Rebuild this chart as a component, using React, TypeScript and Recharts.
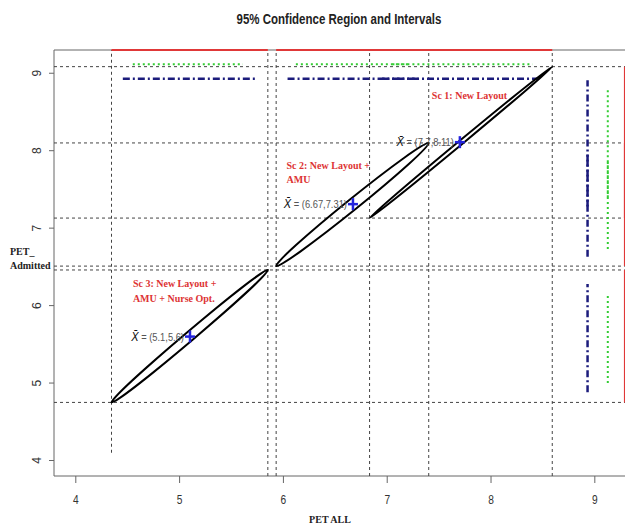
import React from 'react';
import { ComposedChart, XAxis, YAxis, ReferenceLine, ReferenceArea, Scatter } from 'recharts';

// ---- data ----
const xTicks = [4, 5, 6, 7, 8, 9];
const yTicks = [4, 5, 6, 7, 8, 9];
const xDomain = [3.79, 9.31];
const yDomain = [3.8, 9.3];

// scenarios: Sc 1, Sc 2, Sc 3
const meanX = [7.7, 6.67, 5.1];
const meanY = [8.11, 7.31, 5.6];

// 95% simultaneous intervals (red = box of the confidence region)
const redX = [[6.83, 8.59], [5.93, 7.4], [4.344, 5.85]];
const redY = [[7.13, 9.085], [6.51, 8.1], [4.75, 6.46]];
const blueX = [[6.95, 8.45], [6.04, 7.3], [4.453, 5.734]];
const blueY = [[7.28, 8.91], [6.63, 7.98], [4.88, 6.28]];
const greenX = [[7.05, 8.4], [6.12, 7.22], [4.549, 5.61]];
const greenY = [[7.4, 8.81], [6.73, 7.88], [5.0, 6.16]];

// level at which each family of intervals is drawn
const redLevel = 9.3;
const greenLevel = 9.116;
const blueLevel = 8.93;
const redLevelX = 9.29;
const greenLevelX = 9.125;
const blueLevelX = 8.93;

// lower end of the vertical dashed lines
const vLineBottom = [3.8, 3.8, 3.8, 3.8, 3.8, 4.1];

const noteX = [7.43, 6.03, 4.55];
const noteY = [8.71, 7.81, 6.28];
const noteLines = [
  ['Sc 1: New Layout'],
  ['Sc 2: New Layout +', 'AMU'],
  ['Sc 3: New Layout +', 'AMU + Nurse Opt.'],
];

// ---- styles ----
const SANS = "'Liberation Sans', Arial, sans-serif";
const SERIF = "'Liberation Serif', 'Times New Roman', serif";
const ellipseHalfWidth = [2, 5.5, 4.6];

const means = meanX.map((x, i) => ({ x, y: meanY[i] }));
const notes = noteX.map((x, i) => ({ x, y: noteY[i], lines: noteLines[i] }));

const vLines = redX
  .flat()
  .slice()
  .sort((a, b) => b - a)
  .map((x, i) => ({ x, bottom: vLineBottom[i] }));
const hLines = redY.flat();

const XTick = (props: any) => {
  const { x, y, payload } = props;
  return (
    <text
      x={0}
      y={0}
      transform={`translate(${x}, ${y + 19}) scale(0.85, 1)`}
      textAnchor="middle"
      fontFamily={SANS}
      fontSize={12}
      fill="#333"
    >
      {payload.value}
    </text>
  );
};

const YTick = (props: any) => {
  const { x, y, payload } = props;
  const cx = x - 10;
  return (
    <text
      x={cx}
      y={y}
      textAnchor="middle"
      dominantBaseline="central"
      transform={`rotate(-90, ${cx}, ${y})`}
      fontFamily={SANS}
      fontSize={12}
      fill="#333"
    >
      {payload.value}
    </text>
  );
};

const makeEllipse = (hw: number) => (p: any) => {
  const { x1, y1, x2, y2 } = p;
  if ([x1, y1, x2, y2].some((v) => v == null || isNaN(v))) return <g />;
  const cx = (x1 + x2) / 2;
  const cy = (y1 + y2) / 2;
  const rx = Math.hypot(x2 - x1, y2 - y1) / 2;
  const ang = (Math.atan2(y2 - y1, x2 - x1) * 180) / Math.PI;
  return (
    <ellipse
      cx={cx}
      cy={cy}
      rx={rx}
      ry={hw}
      transform={`rotate(${ang}, ${cx}, ${cy})`}
      fill="none"
      stroke="#000"
      strokeWidth={2}
    />
  );
};

const Cross = (props: any) => {
  const { cx, cy, payload } = props;
  if (cx == null || cy == null) return <g />;
  return (
    <g>
      <text
        x={0}
        y={0}
        transform={`translate(${cx - 6}, ${cy}) scale(0.85, 1)`}
        textAnchor="end"
        dominantBaseline="central"
        fontFamily={SANS}
        fontSize={11}
      >
        <tspan fill="#111" fontStyle="italic" fontSize={13}>{'X\u0304'}</tspan>
        <tspan fill="#555">{` = (${payload.x},${payload.y})`}</tspan>
      </text>
      <line x1={cx - 5} y1={cy} x2={cx + 5} y2={cy} stroke="#2323dd" strokeWidth={2.5} />
      <line x1={cx} y1={cy - 6} x2={cx} y2={cy + 6} stroke="#2323dd" strokeWidth={2.5} />
    </g>
  );
};

const Note = (props: any) => {
  const { cx, cy, payload } = props;
  if (cx == null || cy == null) return <g />;
  return (
    <g>
      {payload.lines.map((t: string, i: number) => (
        <text
          key={i}
          x={cx}
          y={cy + i * 14.5}
          dominantBaseline="central"
          fontFamily={SERIF}
          fontWeight="bold"
          fontSize={10}
          fill="#dd3333"
        >
          {t}
        </text>
      ))}
    </g>
  );
};

const dashStyle = { stroke: '#444', strokeWidth: 1, strokeDasharray: '3 3' };
const blueStyle = { stroke: '#1c1c7c', strokeWidth: 2.5, strokeDasharray: '7 3 2 3' };
const greenStyle = { stroke: '#33cc33', strokeWidth: 2, strokeDasharray: '2 3' };
const redStyle = { stroke: '#e03838', strokeWidth: 2 };

export default function App() {
  return (
    <div style={{ position: 'absolute', left: 0, top: 0, width: 625, height: 531, overflow: 'hidden', background: '#fff' }}>
      <div
        style={{
          position: 'absolute',
          left: 0,
          width: 678,
          top: 11,
          textAlign: 'center',
          fontFamily: SANS,
          fontWeight: 'bold',
          fontSize: 14,
          color: '#222',
          transform: 'scaleX(0.82)',
          transformOrigin: '339px 0',
        }}
      >
        95% Confidence Region and Intervals
      </div>
      <div
        style={{
          position: 'absolute',
          left: 0,
          width: 660,
          top: 514,
          textAlign: 'center',
          fontFamily: SERIF,
          fontWeight: 'bold',
          fontSize: 10,
          color: '#222',
        }}
      >
        PET ALL
      </div>
      <div
        style={{
          position: 'absolute',
          left: 10,
          top: 245,
          fontFamily: SERIF,
          fontWeight: 'bold',
          fontSize: 10,
          lineHeight: '14px',
          color: '#222',
        }}
      >
        PET_
        <br />
        Admitted
      </div>
      <ComposedChart width={630} height={531} margin={{ top: 50, right: 3, bottom: 0, left: 0 }}>
        <XAxis
          type="number"
          dataKey="x"
          domain={xDomain}
          ticks={xTicks}
          allowDataOverflow
          height={55}
          axisLine={false}
          tickLine={{ stroke: '#666' }}
          tickSize={7}
          tickMargin={2}
          tick={<XTick />}
        />
        <YAxis
          type="number"
          dataKey="y"
          domain={yDomain}
          ticks={yTicks}
          allowDataOverflow
          width={54}
          axisLine={false}
          tickLine={{ stroke: '#666' }}
          tickSize={5}
          tickMargin={2}
          tick={<YTick />}
        />
        <ReferenceArea
          x1={xDomain[0]}
          x2={xDomain[1]}
          y1={yDomain[0]}
          y2={yDomain[1]}
          fill="none"
          stroke="#666"
          strokeWidth={1}
          ifOverflow="visible"
        />
        {hLines.map((y, i) => (
          <ReferenceLine key={`h${i}`} y={y} {...dashStyle} ifOverflow="visible" />
        ))}
        {vLines.map((v, i) => (
          <ReferenceLine
            key={`v${i}`}
            segment={[{ x: v.x, y: v.bottom }, { x: v.x, y: yDomain[1] }]}
            {...dashStyle}
            ifOverflow="visible"
          />
        ))}
        {redX.map((r, i) => (
          <ReferenceLine key={`rx${i}`} segment={[{ x: r[0], y: redLevel }, { x: r[1], y: redLevel }]} {...redStyle} ifOverflow="visible" />
        ))}
        {redY.map((r, i) => (
          <ReferenceLine key={`ry${i}`} segment={[{ x: redLevelX, y: r[0] }, { x: redLevelX, y: r[1] }]} {...redStyle} ifOverflow="visible" />
        ))}
        {greenX.map((r, i) => (
          <ReferenceLine key={`gx${i}`} segment={[{ x: r[0], y: greenLevel }, { x: r[1], y: greenLevel }]} {...greenStyle} ifOverflow="visible" />
        ))}
        {greenY.map((r, i) => (
          <ReferenceLine key={`gy${i}`} segment={[{ x: greenLevelX, y: r[0] }, { x: greenLevelX, y: r[1] }]} {...greenStyle} ifOverflow="visible" />
        ))}
        {blueX.map((r, i) => (
          <ReferenceLine key={`bx${i}`} segment={[{ x: r[0], y: blueLevel }, { x: r[1], y: blueLevel }]} {...blueStyle} ifOverflow="visible" />
        ))}
        {blueY.map((r, i) => (
          <ReferenceLine key={`by${i}`} segment={[{ x: blueLevelX, y: r[0] }, { x: blueLevelX, y: r[1] }]} {...blueStyle} ifOverflow="visible" />
        ))}
        {redX.map((r, i) => (
          <ReferenceLine
            key={`el${i}`}
            segment={[{ x: r[0], y: redY[i][0] }, { x: r[1], y: redY[i][1] }]}
            shape={makeEllipse(ellipseHalfWidth[i])}
            ifOverflow="visible"
          />
        ))}
        <Scatter data={notes} dataKey="y" shape={<Note />} isAnimationActive={false} />
        <Scatter data={means} dataKey="y" shape={<Cross />} isAnimationActive={false} />
      </ComposedChart>
    </div>
  );
}
